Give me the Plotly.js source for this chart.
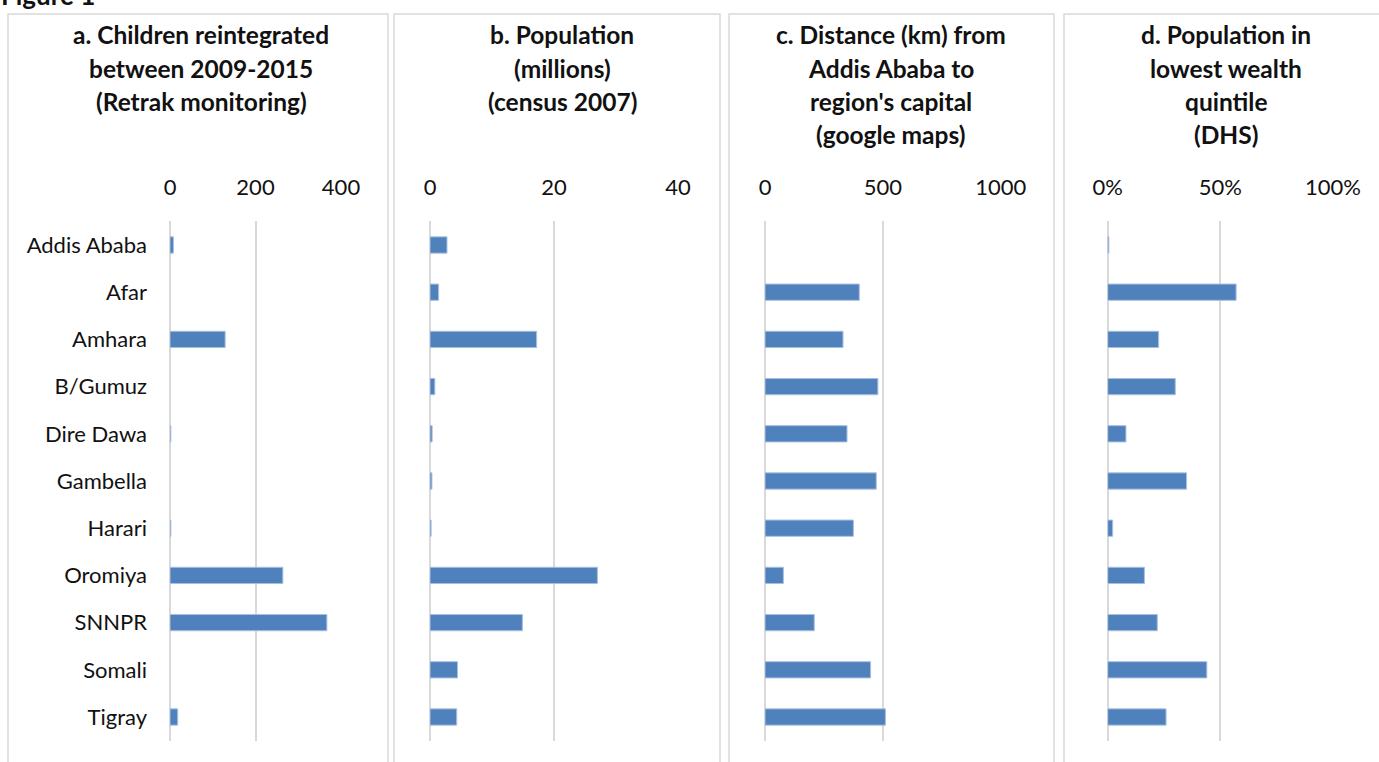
<!DOCTYPE html>
<html>
<head>
<meta charset="utf-8">
<script src="https://cdn.plot.ly/plotly-3.0.1.min.js"></script>
<style>html,body{margin:0;padding:0;background:#fff;}#chart{width:1379px;height:762px;}</style>
</head>
<body>
<div id="chart"></div>
<script>
const regions = ["Addis Ababa","Afar","Amhara","B/Gumuz","Dire Dawa","Gambella","Harari","Oromiya","SNNPR","Somali","Tigray"];
const childrenReintegrated = [8, 0, 129, 0, 2, 0, 2, 264, 367, 0, 18];
const populationMillions = [2.74, 1.39, 17.2, 0.78, 0.34, 0.31, 0.18, 27.0, 14.9, 4.44, 4.31];
const distanceKm = [0, 400, 331, 479, 348, 472, 375, 78, 209, 448, 511];
const lowestQuintile = [0.005, 0.57, 0.226, 0.30, 0.081, 0.35, 0.022, 0.163, 0.22, 0.44, 0.259];

const panelTitles = [
  ["a. Children reintegrated","between 2009-2015","(Retrak monitoring)"],
  ["b. Population","(millions)","(census 2007)"],
  ["c. Distance (km) from","Addis Ababa to","region's capital","(google maps)"],
  ["d. Population in","lowest wealth","quintile","(DHS)"]
];
const xRanges = [[0,400],[0,40],[0,1000],[0,1]];
const xDticks = [200,20,500,0.5];
const xFormats = ["","","",".0%"];

const W = 1379, H = 762;
const px = v => v / W;
const py = v => 1 - v / H;

// layout geometry (pixels)
const plotX = [[170,341],[430,678],[765,1000.7],[1107.7,1333]];
const plotY = [221.4, 740.6];
const boxes = [[8,388],[394,720],[729,1054],[1064,1392]];
const titleCenters = [201,562,891,1226];
const lineY = [35,68,101,134];

const series = [childrenReintegrated, populationMillions, distanceKm, lowestQuintile];
const barColor = "#4f81bd";
const gridColor = "#d9d9d9";
const fontFam = "Lato, 'Open Sans', sans-serif";

const data = series.map((vals, i) => ({
  type: "bar",
  orientation: "h",
  x: vals,
  y: regions,
  xaxis: i === 0 ? "x" : "x" + (i + 1),
  yaxis: i === 0 ? "y" : "y" + (i + 1),
  width: 0.345,
  marker: {color: barColor, line: {color: "#a9c0df", width: vals.map(v => v > 0 ? 1 : 0)}},
  hoverinfo: "x+y"
}));

const layout = {
  width: W, height: H,
  margin: {l: 0, r: 0, t: 0, b: 0},
  paper_bgcolor: "#fff",
  plot_bgcolor: "rgba(0,0,0,0)",
  showlegend: false,
  font: {family: fontFam, color: "#111"},
  shapes: [],
  annotations: []
};

for (let i = 0; i < 4; i++) {
  const xa = i === 0 ? "xaxis" : "xaxis" + (i + 1);
  const ya = i === 0 ? "yaxis" : "yaxis" + (i + 1);
  layout[xa] = {
    domain: [px(plotX[i][0]), px(plotX[i][1])],
    range: xRanges[i],
    dtick: xDticks[i],
    tick0: 0,
    tickformat: xFormats[i],
    side: "top",
    anchor: i === 0 ? "y" : "y" + (i + 1),
    showgrid: true,
    gridcolor: gridColor,
    gridwidth: 2,
    zeroline: true,
    zerolinecolor: gridColor,
    zerolinewidth: 2,
    showline: false,
    ticks: "",
    ticklabelstandoff: 21,
    tickfont: {family: fontFam, size: 22, color: "#111"},
    fixedrange: true
  };
  layout[ya] = {
    domain: [py(plotY[1]), py(plotY[0])],
    type: "category",
    range: [10.5, -0.5],
    anchor: i === 0 ? "x" : "x" + (i + 1),
    showgrid: false,
    zeroline: false,
    showline: false,
    ticks: "",
    showticklabels: i === 0,
    ticklabelstandoff: 22,
    tickfont: {family: fontFam, size: 22, color: "#111"},
    fixedrange: true
  };
  layout.shapes.push({
    type: "rect", xref: "paper", yref: "paper",
    x0: px(boxes[i][0]), x1: px(boxes[i][1]),
    y0: py(780), y1: py(14),
    line: {color: gridColor, width: 1.5},
    fillcolor: "rgba(0,0,0,0)",
    layer: "below"
  });
  panelTitles[i].forEach((t, k) => {
    layout.annotations.push({
      text: "<b>" + t + "</b>",
      xref: "paper", yref: "paper",
      x: px(titleCenters[i]), y: py(lineY[k]),
      xanchor: "center", yanchor: "middle",
      showarrow: false,
      font: {family: fontFam, size: 24.5, color: "#111"}
    });
  });
}

layout.annotations.push({
  text: "<b>Figure 1</b>",
  xref: "paper", yref: "paper",
  x: px(-1), y: py(-5),
  xanchor: "left", yanchor: "middle",
  showarrow: false,
  font: {family: fontFam, size: 26, color: "#111"}
});

Plotly.newPlot("chart", data, layout, {displayModeBar: false, staticPlot: true});
</script>
</body>
</html>
